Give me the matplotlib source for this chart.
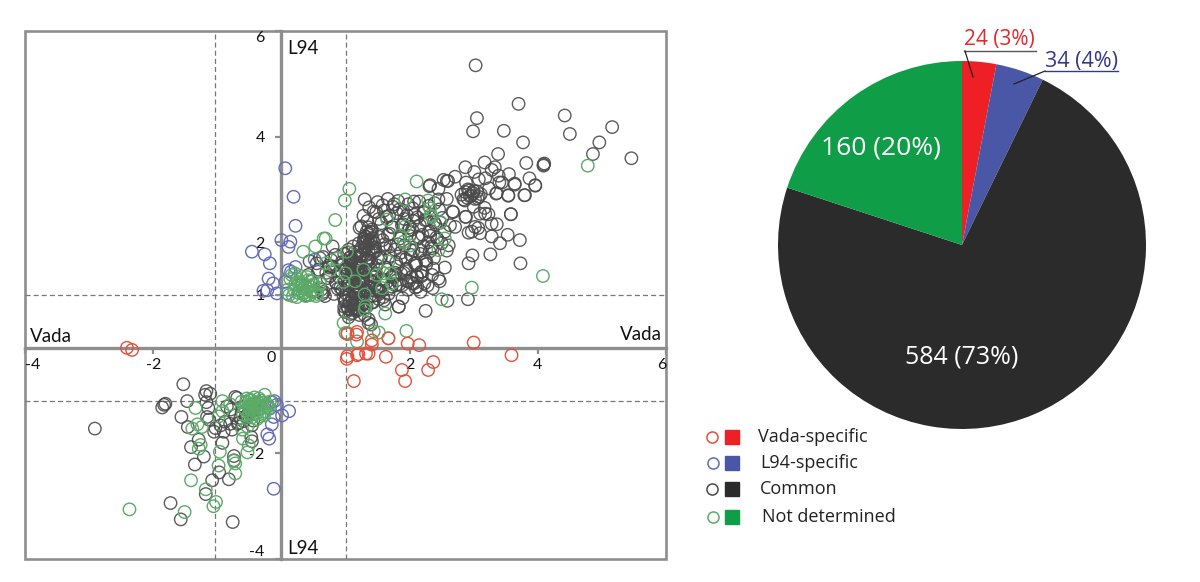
import matplotlib
matplotlib.use("Agg")
import matplotlib.pyplot as plt

plt.rcParams['font.family'] = ['Open Sans', 'DejaVu Sans']

# ---------- scatter data (Vada log ratio, L94 log ratio) ----------
common_x = [3.03,3.70,4.42,3.05,2.99,3.47,4.50,5.16,4.96,4.86,5.46,3.77,3.38,3.17,3.82,4.09,4.09,4.10,2.87,3.33,3.28,3.01,3.55,3.87,2.71,
 2.58,2.53,2.60,2.31,3.08,3.18,3.39,3.40,3.44,3.64,3.96,3.79,3.54,3.35,3.24,2.88,2.45,3.58,3.10,3.23,2.88,2.67,2.58,2.45,2.07,3.17,3.00,
 2.81,2.84,2.87,2.90,2.93,2.96,2.99,3.02,3.05,3.08,3.11,2.86,2.94,3.00,3.06,2.91,
 3.72,3.73,3.58,3.53,3.41,3.28,3.26,2.98,2.92,2.91,2.59,2.25,1.83,2.36,2.09,2.12,2.45,2.19,2.55,2.61,3.02,3.07,2.92,2.97,3.10,3.28,3.36,
 2.87,3.18,2.68,2.71,2.63,2.32,3.80,3.96,3.64,3.54,3.36,2.39,2.46,2.51,2.40,2.30,2.22,2.15,2.05,1.98,1.90,1.82,1.74,1.66,1.58,1.50,1.44,1.37,1.30,
 2.55,2.48,2.42,2.33,2.27,2.20,2.12,2.04,1.96,1.88,1.80,1.72,1.64,1.56,1.48,1.41,1.34,1.28,1.22,
 2.50,2.44,2.36,2.29,2.21,2.14,2.06,2.00,1.92,1.85,1.77,1.69,1.61,1.53,1.46,1.39,1.31,1.25,
 2.38,2.31,2.24,2.16,2.08,2.01,1.94,1.86,1.79,1.70,1.62,1.55,1.47,1.40,1.33,1.27,1.21,
 2.58,2.37,2.26,2.18,2.10,2.03,1.95,1.87,1.81,1.73,1.65,1.57,1.49,1.42,1.35,1.26,1.19,
 2.47,2.35,2.23,2.11,1.99,1.91,1.84,1.76,1.68,1.60,1.52,1.45,1.38,1.32,1.24,
 2.28,2.17,2.07,1.97,1.89,1.78,1.67,1.59,1.51,1.43,1.36,1.29,1.23,
 1.12,1.05,0.98,1.06,1.15,1.22,1.30,1.36,1.44,1.18,1.10,1.02,0.96,1.08,1.16,1.24,1.33,1.40,1.50,
 1.00,1.07,1.14,1.20,1.28,1.35,1.42,0.94,1.03,1.11,1.19,1.27,1.34,1.46,0.99,1.09,1.17,1.25,1.32,1.39,1.48,
 0.95,1.04,1.13,1.21,1.31,1.37,1.55,0.97,1.01,1.10,1.16,1.23,1.30,1.38,1.47,1.60,0.99,1.06,1.14,1.20,1.26,1.41,1.52,
 0.98,1.04,1.12,1.18,1.29,1.43,1.62,1.00,1.08,1.15,1.22,1.33,0.98,1.05,1.11,1.19,1.36,1.30,1.40,1.36,1.83,
 0.32,0.42,0.50,0.58,0.64,0.72,0.80,0.88,0.38,0.46,0.55,0.62,0.70,0.78,0.86,0.48,0.57,0.66,0.74,0.82,0.90,0.44,0.60,0.68,0.76,0.84,0.92,0.65,0.75,0.85,0.80,0.93,
 -2.91,-1.53,-1.81,-1.86,-1.83,-1.47,-1.17,-1.11,-1.19,-1.17,-1.14,-1.56,-1.16,-1.13,-1.46,-1.03,-1.05,-0.90,-0.95,-1.29,-1.41,-0.92,-1.21,-1.35,-0.74,-0.74,-0.97,-1.08,-0.82,-1.18,-1.73,-1.57,-0.76,-0.46,-0.47,-0.72,-0.69,-0.79,-0.64,-0.59,-0.77,-0.67,-0.46,-0.48,-0.85]
common_y = [5.35,4.62,4.40,4.35,4.10,4.11,4.05,4.18,3.89,3.67,3.59,3.89,3.67,3.51,3.50,3.47,3.45,3.49,3.42,3.42,3.37,3.33,3.29,3.21,3.24,
 3.16,3.18,3.16,3.06,3.19,3.21,3.26,3.13,3.13,3.09,3.07,2.89,2.88,2.92,3.02,3.13,3.01,2.53,2.54,2.53,2.48,2.58,2.82,2.81,2.77,2.65,2.67,
 2.90,2.81,2.95,2.84,2.98,2.88,2.93,2.82,2.96,2.86,2.91,2.79,2.87,2.97,2.83,3.00,
 2.04,1.60,2.53,2.14,1.98,2.11,1.77,1.75,1.60,0.92,0.89,0.70,0.78,1.13,1.14,1.16,1.31,1.36,1.52,1.94,2.29,2.27,2.18,2.20,2.17,2.35,2.34,
 2.48,2.54,2.57,2.29,2.32,3.08,2.89,3.08,3.11,2.89,2.93,2.74,2.62,2.46,2.34,2.69,2.58,2.77,2.64,2.72,2.60,2.78,2.67,2.82,2.70,2.76,2.58,2.66,2.81,
 2.20,2.37,2.09,2.21,2.42,2.14,2.47,2.24,2.51,2.32,2.55,2.29,2.48,2.36,2.57,2.19,2.40,2.50,2.27,
 1.98,2.05,1.88,2.00,1.92,2.08,1.84,2.12,1.94,2.07,1.86,2.16,1.96,2.10,1.90,2.20,2.02,2.30,
 1.70,1.82,1.66,1.78,1.60,1.86,1.68,1.80,1.62,1.74,1.88,1.70,1.83,1.64,1.92,1.77,1.98,
 1.84,1.50,1.58,1.44,1.60,1.34,1.50,1.40,1.54,1.36,1.48,1.30,1.56,1.24,1.66,1.42,1.80,
 1.26,1.38,1.22,1.36,1.26,1.42,1.20,1.34,1.12,1.28,1.08,1.34,1.16,1.48,1.62,
 1.18,1.06,1.22,1.10,0.94,1.18,1.02,0.96,1.10,0.98,1.14,1.00,1.24,
 1.92,1.86,1.78,1.70,1.82,1.74,1.90,1.66,1.84,1.58,1.66,1.50,1.58,1.72,1.62,1.54,1.66,1.48,1.70,
 1.48,1.56,1.40,1.52,1.44,1.56,1.36,1.62,1.42,1.34,1.46,1.26,1.30,1.18,1.26,1.38,1.16,1.30,1.10,1.28,1.12,
 1.10,1.18,1.06,1.22,1.02,1.14,1.06,0.96,1.02,0.94,1.04,0.92,1.08,0.98,1.00,0.90,0.88,0.84,0.86,0.94,0.80,0.86,0.92,
 0.78,0.74,0.82,0.70,0.76,0.86,0.82,0.68,0.64,0.72,0.62,0.78,0.70,0.58,0.66,0.74,0.54,0.62,0.44,0.47,0.78,
 1.20,1.38,1.08,1.48,1.02,1.32,1.54,1.12,1.00,1.26,1.60,1.10,1.42,1.66,1.22,1.05,1.44,1.06,1.56,1.02,1.34,1.64,1.70,0.98,1.36,1.76,1.14,1.72,1.52,1.24,1.92,1.46,
 -1.53,-0.69,-1.06,-1.13,-1.08,-1.01,-0.82,-0.87,-0.89,-1.03,-1.14,-1.31,-1.31,-1.36,-1.50,-1.52,-1.59,-1.59,-1.47,-1.74,-1.88,-1.80,-2.06,-2.21,-2.05,-2.13,-2.36,-2.51,-2.49,-2.77,-2.94,-3.25,-3.30,-1.77,-1.69,-0.93,-0.95,-1.17,-1.33,-1.39,-1.55,-1.42,-1.47,-1.11,-1.11]

common_dense_x = [1.30,1.34,1.38,1.42,1.28,1.33,1.37,1.41,1.45,1.25,1.31,1.36,1.40,1.32,1.35,1.39,1.29,1.43,1.36,1.33,
 1.04,1.08,1.12,1.16,1.20,1.24,1.28,1.02,1.06,1.10,1.14,1.18,1.22,1.26,1.00,1.05,1.09,1.13,1.17,1.21,1.25,1.03,1.07,1.11,1.15,1.19,1.23,1.27,1.09,1.13,1.17,1.21,1.05,1.11,1.15,1.19,
 1.55,1.62,1.70,1.78,1.86,1.94,2.02,2.10,2.18,2.26,2.34,1.58,1.66,1.74,1.82,1.90,1.98,2.06,2.14,2.22,2.30,2.38,1.52,1.60,1.68,1.76,1.84,1.92,2.00,2.08,2.16,2.24,2.32,1.48,1.56,1.64,1.72,1.80,1.88,1.96,2.04,2.12,2.20,
 -0.62,-0.56,-0.50,-0.68,-0.72,-0.44,-0.80,-0.88]
common_dense_y = [2.12,2.04,2.16,2.08,2.00,2.20,1.96,2.24,1.98,1.90,1.86,2.28,1.88,2.10,2.14,2.02,2.06,1.80,1.84,1.76,
 1.80,1.64,1.50,1.72,1.58,1.44,1.30,1.12,1.24,1.38,1.56,1.18,1.10,1.36,0.90,1.00,1.46,1.30,1.02,1.24,0.96,0.78,0.86,1.20,0.92,0.82,1.06,0.84,0.72,0.76,0.72,0.74,1.60,1.68,1.40,1.52,
 1.72,1.52,1.92,1.42,1.68,1.48,1.76,1.56,1.84,1.64,1.92,2.04,2.14,2.28,1.96,2.34,2.22,2.40,2.10,2.56,2.20,2.38,2.44,2.60,2.50,2.72,2.62,2.44,2.28,2.52,2.32,2.42,2.12,1.40,1.30,1.24,1.16,1.28,1.18,1.26,1.22,1.34,1.44,
 -1.22,-1.30,-1.20,-1.44,-1.28,-1.38,-1.44,-1.40]

undetermined_x = [4.78,4.08,2.97,2.50,1.95,1.67,2.11,1.06,0.99,0.84,0.69,0.66,0.53,0.34,1.93,2.29,1.65,2.32,2.35,2.48,2.55,2.45,1.85,2.01,1.91,
 1.28,1.15,1.30,1.00,0.97,0.69,0.76,0.87,1.02,1.59,1.70,1.49,1.72,1.67,1.57,1.30,1.31,1.62,0.97,1.03,1.18,1.00,1.44,1.52,2.33,1.93,
 0.10,0.14,0.18,0.22,0.26,0.30,0.34,0.38,0.42,0.46,0.50,0.54,0.58,0.12,0.20,0.28,0.36,0.44,0.52,0.16,0.24,0.32,0.40,0.48,0.56,0.60,0.21,0.29,0.37,0.45,0.25,0.33,0.41,0.31,
 -2.37,-1.51,-1.06,-1.02,-1.18,-1.41,-0.72,-0.72,-0.74,-0.98,-0.96,-0.53,-0.51,-0.60,-1.29,-1.26,-1.34,-1.31,-1.39,-1.24,-0.26,-0.92,-0.92,-0.98,-0.80,-0.61,-0.53,
 -0.62,-0.58,-0.54,-0.50,-0.46,-0.42,-0.38,-0.34,-0.30,-0.26,-0.22,-0.18,-0.60,-0.55,-0.51,-0.47,-0.43,-0.39,-0.35,-0.31,-0.27,-0.23,-0.19,-0.56,-0.52,-0.48,-0.44,-0.40,-0.36,-0.32,-0.28,-0.49,-0.45,-0.41,-0.37,-0.33,-0.46,-0.42,-0.38]
undetermined_y = [3.45,1.36,1.14,0.92,0.32,0.18,3.15,3.01,2.79,2.42,2.07,2.07,1.92,1.82,2.81,2.79,2.43,2.64,2.48,2.38,2.07,1.85,2.13,1.94,2.01,
 1.48,1.26,1.01,1.41,1.25,1.60,1.47,1.69,1.82,1.41,1.41,1.38,1.22,1.63,1.13,0.72,0.78,0.65,0.47,0.28,0.12,0.28,0.31,0.29,2.51,2.30,
 1.10,1.30,0.98,1.22,1.04,1.36,1.12,0.98,1.28,1.06,1.20,0.98,1.14,1.00,1.10,1.24,1.05,1.17,1.08,1.38,0.96,1.16,1.34,1.26,1.02,1.22,1.41,1.08,1.20,1.00,1.30,1.02,1.12,1.24,
 -3.06,-3.11,-3.00,-2.92,-2.68,-2.51,-2.38,-2.19,-2.14,-2.23,-1.97,-1.98,-1.85,-1.72,-1.91,-1.84,-1.14,-1.45,-1.53,-1.50,-0.89,-1.01,-1.20,-1.30,-1.07,-1.55,-1.49,
 -1.02,-1.14,-0.96,-1.24,-1.06,-0.94,-1.18,-1.30,-1.04,-1.20,-1.10,-1.02,-1.26,-1.02,-1.12,-1.00,-1.20,-1.08,-0.96,-1.14,-1.28,-1.06,-1.14,-1.18,-1.30,-1.08,-1.26,-1.14,-1.04,-1.00,-1.24,-0.98,-1.16,-1.04,-1.22,-1.10,-1.32,-1.08,-1.35]

l94_x = [0.06,0.19,0.22,0.00,0.14,0.11,-0.46,-0.26,-0.18,-0.20,-0.13,-0.28,-0.22,-0.07,0.06,0.11,0.22,0.52,0.09,0.15,
 -0.12,-0.19,-0.22,-0.15,-0.12,0.01,0.12,-0.11,-0.15,-0.07,-0.18]
l94_y = [3.40,2.86,2.31,2.04,2.01,1.91,1.82,1.77,1.60,1.31,1.22,1.08,1.09,1.03,1.25,1.47,1.53,1.67,1.03,1.44,
 -2.67,-1.72,-1.64,-1.45,-1.31,-1.28,-1.20,-1.01,-1.03,-1.08,-1.15]

vada_x = [3.00,3.59,1.97,2.15,2.37,2.29,1.88,1.93,1.13,1.63,1.32,1.36,1.18,1.20,1.02,1.03,1.41,1.41,1.18,1.17,1.03,1.67,-2.41,-2.33]
vada_y = [0.10,-0.14,0.08,0.05,-0.27,-0.42,-0.42,-0.63,-0.63,-0.17,-0.11,-0.11,-0.14,-0.12,-0.21,-0.16,0.06,0.14,0.30,0.25,0.26,0.18,0.00,-0.04]

# ---------- pie data ----------
pie_counts = [24, 34, 584, 160]
pie_labels = ['24 (3%)', '34 (4%)', '584 (73%)', '160 (20%)']
legend_names = ['Vada-specific', 'L94-specific', 'Common', 'Not determined']
pie_colors = ['#EE2025', '#4A57A6', '#2B2B2B', '#0F9D48']
edge_colors = ['#E4503A', '#636CB4', '#4A4A4A', '#5BAA68']

W, H = 1200, 582
fig = plt.figure(figsize=(W/100, H/100), dpi=100, facecolor='white')

# ---------- scatter ----------
ax = fig.add_axes([25/W, 1-559/H, 641/W, 528/H])
ax.set_xlim(-4, 6)
ax.set_ylim(-4, 6)
grey = '#8E8E8E'
for s in ['top', 'right', 'bottom', 'left']:
    ax.spines[s].set_visible(False)
ax.add_patch(plt.Rectangle((0, 0), 1, 1, transform=ax.transAxes, fill=False,
                           ec=grey, lw=1.9, clip_on=False, zorder=1))
for v in (-1.03, 1):
    ax.axvline(v, color='#777777', lw=0.9, ls=(0, (4, 2.5)), zorder=1)
for v in (-1, 1):
    ax.axhline(v, color='#777777', lw=0.9, ls=(0, (4, 2.5)), zorder=1)
ax.spines['left'].set_visible(True)
ax.spines['bottom'].set_visible(True)
ax.spines['left'].set_position(('data', 0))
ax.spines['bottom'].set_position(('data', 0))
ax.spines['left'].set_color(grey)
ax.spines['bottom'].set_color(grey)
ax.spines['left'].set_linewidth(2.4)
ax.spines['bottom'].set_linewidth(2.4)
ax.set_xticks([-4, -2, 2, 4, 6])
ax.set_yticks([-4, -2, -1, 1, 2, 4, 6])
ax.set_xticklabels(['-4', '-2', '2', '4', '6'], fontsize=11.5, family=['Lato'])
ax.set_yticklabels(['-4', '-2', '-1', '1', '2', '4', '6'], fontsize=11.5, family=['Lato'])
ax.tick_params(axis='both', length=4, width=1.6, color=grey, labelcolor='#111111')
ax.tick_params(axis='x', pad=3)
ax.tick_params(axis='y', pad=8)
xl = ax.get_xticklabels()
xl[0].set_ha('left'); xl[-1].set_ha('right')
yl = ax.get_yticklabels()
yl[0].set_va('bottom'); yl[-1].set_va('top')

kw = dict(s=80, facecolors='none', linewidths=1.0, zorder=3, clip_on=False)
ax.scatter(common_x + common_dense_x, common_y + common_dense_y, edgecolors=edge_colors[2], alpha=0.9, **kw)
ax.scatter(l94_x, l94_y, edgecolors=edge_colors[1], **kw)
ax.scatter(undetermined_x, undetermined_y, edgecolors=edge_colors[3], **kw)
ax.scatter(vada_x, vada_y, edgecolors=edge_colors[0], **kw)

# ---------- pie ----------
pax = fig.add_axes([778/W, 1-429/H, 368/W, 368/H])
pax.pie(pie_counts, colors=pie_colors, startangle=90, counterclock=False, radius=1)
pax.set_xlim(-1, 1); pax.set_ylim(-1, 1)

# ---------- overlay in figure pixels ----------
ov = fig.add_axes([0, 0, 1, 1], facecolor='none')
ov.set_xlim(0, W); ov.set_ylim(H, 0); ov.axis('off')

txt = dict(family=['Lato'], fontsize=13.5, color='#111111', va='center')
ov.text(30, 336, 'Vada', ha='left', **txt)
ov.text(662, 334, 'Vada', ha='right', **txt)
ov.text(287, 48, 'L94', ha='left', **txt)
ov.text(287, 548, 'L94', ha='left', **txt)
ov.text(271, 358, '0', ha='center', family=['Lato'], fontsize=11.5, color='#111111', va='center')

ov.text(881, 148, pie_labels[3], color='white', fontsize=19, ha='center', va='center')
ov.text(962, 357, pie_labels[2], color='white', fontsize=18, ha='center', va='center')
ov.text(964, 40, pie_labels[0], color='#E5262B', fontsize=15, ha='left', va='center')
ov.text(1045, 62, pie_labels[1], color='#33388F', fontsize=15.5, ha='left', va='center')
ov.plot([964, 1036], [51, 51], color='#555555', lw=1)
ov.plot([1045, 1118], [71, 71], color='#33388F', lw=1)
ov.plot([965, 973], [51, 77], color='#222222', lw=0.9)
ov.plot([1045, 1014], [71, 84], color='#222222', lw=0.9)

leg_y = [437, 463, 489, 517]
leg_cx = [712, 713, 712, 713]
leg_tx = [758, 760, 760, 762]
for name, c, e, y, cx, tx in zip(legend_names, pie_colors, edge_colors, leg_y, leg_cx, leg_tx):
    ov.plot([cx], [y], 'o', mfc='none', mec=e, ms=8, mew=1.1)
    ov.plot([732], [y], 's', mfc=c, mec=c, ms=9.5)
    ov.text(tx, y, name, ha='left', va='center', fontsize=13, color='#222222')

fig.savefig('out.png', dpi=100)
